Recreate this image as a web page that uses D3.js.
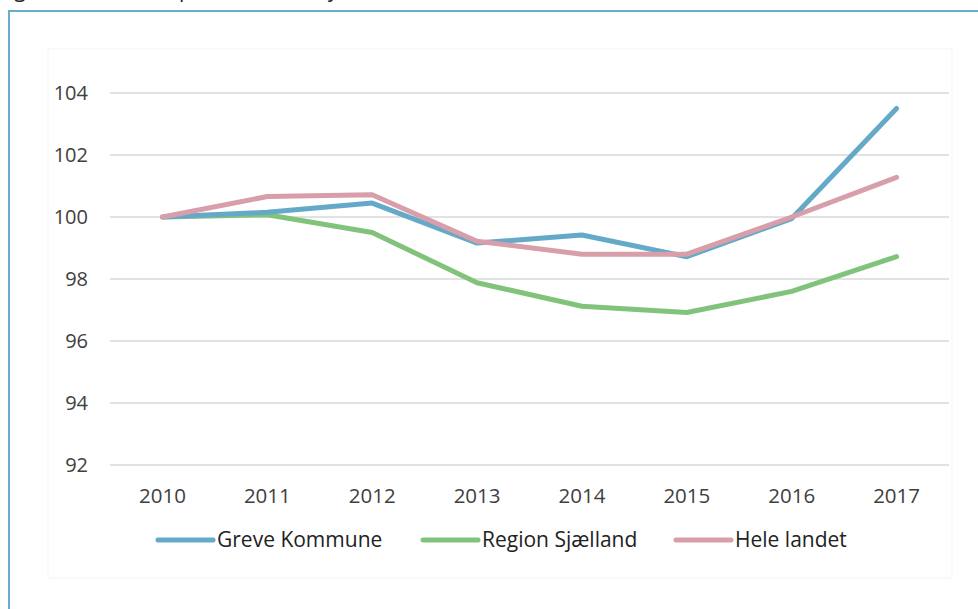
<!DOCTYPE html>
<html>
<head>
<meta charset="utf-8">
<script src="https://cdn.jsdelivr.net/npm/d3@7"></script>
<style>
  body { margin: 0; background: #fff; }
  svg { display: block; font-family: "Open Sans", sans-serif; }
</style>
</head>
<body>
<svg id="chart" width="978" height="609"></svg>
<script>
// data (index, 2010 = 100)
var years = ["2010", "2011", "2012", "2013", "2014", "2015", "2016", "2017"];
var greve  = [100, 100.15, 100.45, 99.16, 99.42, 98.72, 99.95, 103.5];
var region = [100, 100.07, 99.5, 97.88, 97.12, 96.92, 97.6, 98.72];
var landet = [100, 100.66, 100.72, 99.22, 98.8, 98.8, 100.0, 101.28];
var yTicks = [92, 94, 96, 98, 100, 102, 104];
var seriesNames = ["Greve Kommune", "Region Sjælland", "Hele landet"];
var colors = ["#65a9c9", "#82c37c", "#d89eaa"];

var svg = d3.select("#chart");

// caption sits above the frame, only its lowest part shows
svg.append("text")
  .attr("x", -2)
  .attr("y", -3)
  .attr("font-size", 21)
  .attr("fill", "#222")
  .text("Figur 4: Indeks for personer i arbejde i kommunen (2010 = 100)");

// outer frame (runs off the right and bottom edges)
svg.append("path")
  .attr("d", "M9,620 L9,11 L990,11")
  .attr("fill", "none")
  .attr("stroke", "#6aaccc")
  .attr("stroke-width", 2);

// faint chart panel
svg.append("rect")
  .attr("x", 48).attr("y", 49)
  .attr("width", 904).attr("height", 529)
  .attr("fill", "#fff")
  .attr("stroke", "#f3f3f3")
  .attr("stroke-width", 1);

var x = d3.scaleBand().domain(years).range([110, 949]);
var y = d3.scaleLinear().domain([92, 104]).range([465, 93]);

// gridlines
svg.append("g").selectAll("line")
  .data(yTicks)
  .enter()
  .append("line")
  .attr("x1", 110).attr("x2", 949)
  .attr("y1", function(d){ return y(d); })
  .attr("y2", function(d){ return y(d); })
  .attr("stroke", "#d9d9d9")
  .attr("stroke-width", 1.5);

// y axis labels
var yAxis = d3.axisLeft(y).tickValues(yTicks).tickSize(0).tickPadding(0);
var gy = svg.append("g").attr("transform", "translate(88,0)").call(yAxis);
gy.select(".domain").remove();
gy.selectAll("text")
  .attr("font-family", "'Open Sans', sans-serif")
  .attr("font-size", 20)
  .attr("fill", "#404040");

// x axis labels
var xAxis = d3.axisBottom(x).tickSize(0).tickPadding(0);
var gx = svg.append("g").attr("transform", "translate(0,488)").call(xAxis);
gx.select(".domain").remove();
gx.selectAll("text")
  .attr("font-family", "'Open Sans', sans-serif")
  .attr("font-size", 20.5)
  .attr("fill", "#404040");

// lines
var line = d3.line()
  .x(function(d, i){ return x(years[i]) + x.bandwidth() / 2; })
  .y(function(d){ return y(d); });

var allSeries = [greve, region, landet];
// draw order: green, blue, pink on top
[1, 0, 2].forEach(function(k){
  svg.append("path")
    .datum(allSeries[k])
    .attr("d", line)
    .attr("fill", "none")
    .attr("stroke", colors[k])
    .attr("stroke-width", 5)
    .attr("stroke-linecap", "round")
    .attr("stroke-linejoin", "round");
});

// legend
var legendX = [158, 423, 676];
var lg = svg.append("g").selectAll("g")
  .data(seriesNames)
  .enter()
  .append("g")
  .attr("transform", function(d, i){ return "translate(" + legendX[i] + ",540)"; });
lg.append("line")
  .attr("x1", 0).attr("x2", 55)
  .attr("stroke", function(d, i){ return colors[i]; })
  .attr("stroke-width", 5)
  .attr("stroke-linecap", "round");
lg.append("text")
  .attr("x", 59)
  .attr("dy", "0.35em")
  .attr("font-size", 21)
  .attr("fill", "#222")
  .text(function(d){ return d; });
</script>
</body>
</html>
